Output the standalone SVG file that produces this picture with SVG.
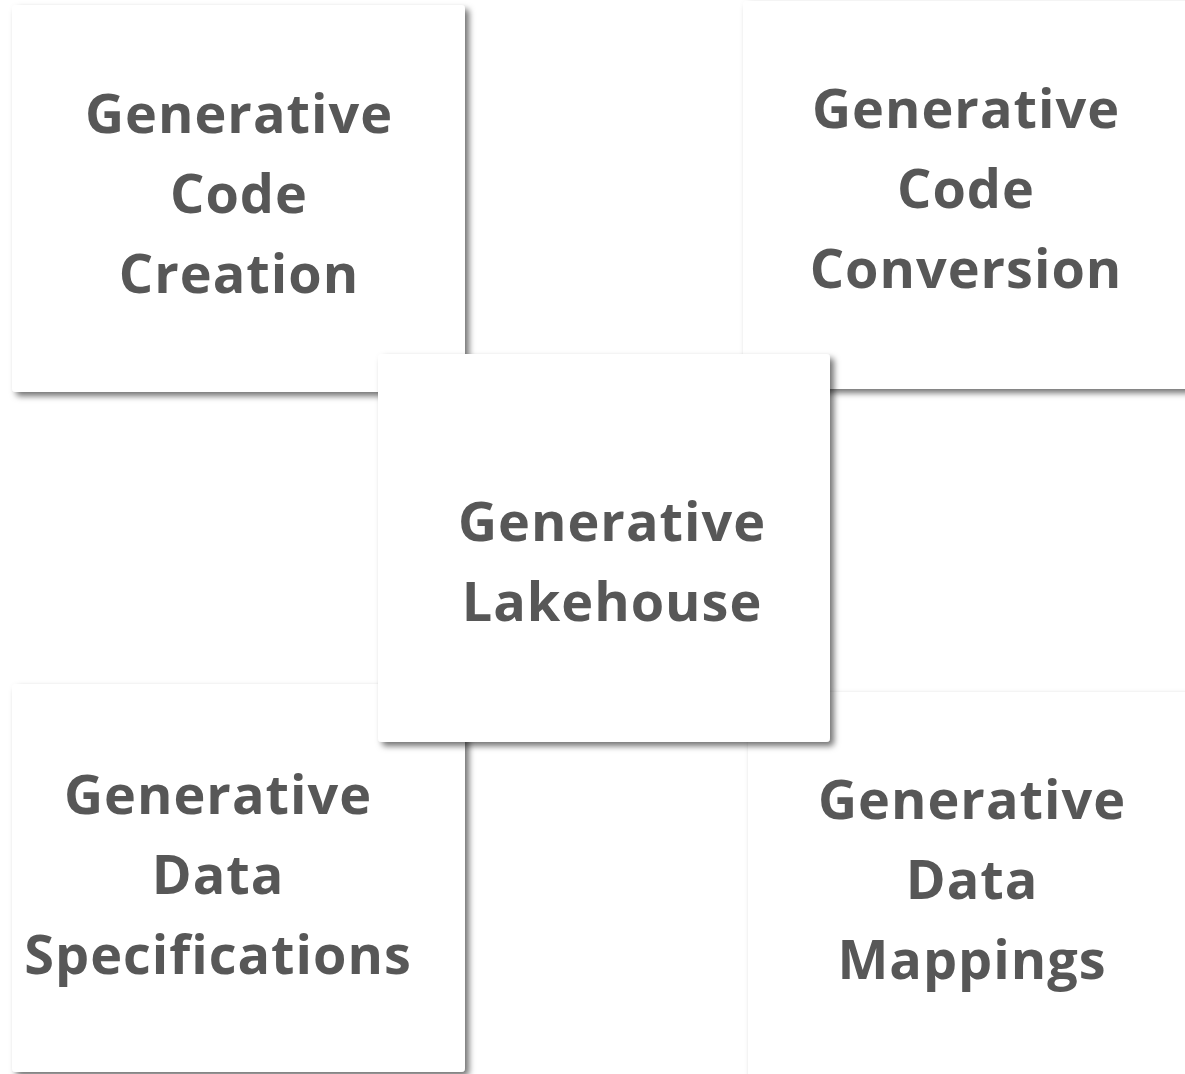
<svg xmlns="http://www.w3.org/2000/svg" width="1185" height="1074" viewBox="0 0 1185 1074">
<style>
.box{fill:#ffffff;filter:url(#sh)}
.t{font-family:"Open Sans","Liberation Sans",sans-serif;font-weight:700;font-size:54px;fill:#575757;text-anchor:middle;letter-spacing:1px}
</style>
<defs>
<filter id="sh" x="-5%" y="-5%" width="115%" height="115%">
<feDropShadow dx="4" dy="4" stdDeviation="3" flood-color="#000" flood-opacity="0.55"/>
</filter>
</defs>
<rect width="1185" height="1074" fill="#ffffff"/>
<g id="node-code-creation">
<rect class="box" x="12" y="5" width="453" height="387" rx="4"/>
<text class="t" x="239" y="133">Generative</text>
<text class="t" x="239" y="213">Code</text>
<text class="t" x="239" y="293">Creation</text>
</g>
<g id="node-code-conversion">
<rect class="box" x="743" y="1" width="460" height="388" rx="4"/>
<text class="t" x="966" y="128">Generative</text>
<text class="t" x="966" y="208">Code</text>
<text class="t" x="966" y="288">Conversion</text>
</g>
<g id="node-data-specifications">
<rect class="box" x="12" y="684" width="453" height="388" rx="4"/>
<text class="t" x="218" y="814">Generative</text>
<text class="t" x="218" y="894">Data</text>
<text class="t" x="218" y="974">Specifications</text>
</g>
<g id="node-data-mappings">
<rect class="box" x="748" y="692" width="460" height="400" rx="4"/>
<text class="t" x="972" y="819">Generative</text>
<text class="t" x="972" y="899">Data</text>
<text class="t" x="972" y="979">Mappings</text>
</g>
<g id="node-lakehouse">
<rect class="box" x="378" y="354" width="452" height="388" rx="4"/>
<text class="t" x="612" y="541">Generative</text>
<text class="t" x="612" y="621">Lakehouse</text>
</g>
<g id="connectors"></g>
</svg>
